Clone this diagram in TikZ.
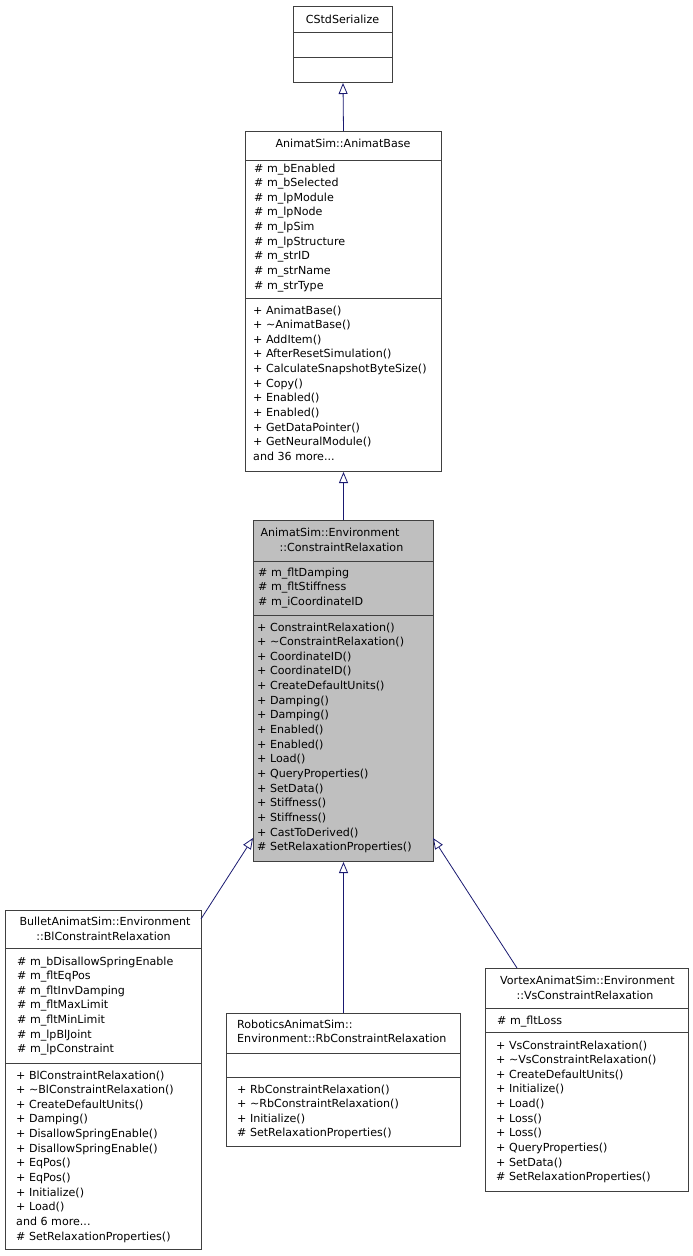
\documentclass[tikz,border=0pt]{standalone}
\usepackage{fontspec}
\setmainfont{DejaVu Sans}
\usetikzlibrary{arrows.meta}
\definecolor{edgecol}{RGB}{25,25,112}
\definecolor{boxline}{RGB}{64,64,64}
\definecolor{crfill}{RGB}{191,191,191}
\newcommand\threedots{...}
\newcommand\mlist[4]{\foreach \t [count=\i] in {#4} {\node[txt] (#1\i) at (#2,{#3+(\i-1)*14.65}) {\t};}}
\begin{document}
\begin{tikzpicture}[x=1pt,y=-1pt,
  umlbox/.style={draw=boxline, line width=1pt, fill=white, inner sep=0pt, anchor=north west},
  txt/.style={anchor=base west, inner sep=0pt, font=\fontsize{11.1}{13}\selectfont},
  ttl/.style={anchor=base, inner sep=0pt, font=\fontsize{11.1}{13}\selectfont},
  divider/.style={draw=boxline, line width=1pt},
  inherit/.style={draw=edgecol, line width=0.8pt, -{Triangle[open, length=11pt, width=9pt, fill=white]}}]
\useasboundingbox (0,0) rectangle (693,1256);

% CStdSerialize
\node[umlbox, minimum width=99pt, minimum height=76pt] (cstd) at (293,6) {};
\draw[divider] (293,32) -- (392,32) (293,57) -- (392,57);
\node[ttl] (cstdT) at (342.5,23) {CStdSerialize};

% AnimatBase
\node[umlbox, minimum width=196pt, minimum height=340pt] (ab) at (245,131) {};
\draw[divider] (245,160) -- (441,160) (245,298) -- (441,298);
\node[ttl] (abT) at (343,147) {AnimatSim::AnimatBase};
\mlist{aba}{254}{172}{\# m\_bEnabled,\# m\_bSelected,\# m\_lpModule,\# m\_lpNode,\# m\_lpSim,\# m\_lpStructure,\# m\_strID,\# m\_strName,\# m\_strType}
\mlist{abm}{253}{314}{+ AnimatBase(),+ \textasciitilde AnimatBase(),+ AddItem(),+ AfterResetSimulation(),+ CalculateSnapshotByteSize(),+ Copy(),+ Enabled(),+ Enabled(),+ GetDataPointer(),+ GetNeuralModule(),and 36 more\threedots}

% ConstraintRelaxation
\node[umlbox, fill=crfill, minimum width=180pt, minimum height=341pt] (cr) at (253,520) {};
\draw[divider] (253,561) -- (433,561) (253,615) -- (433,615);
\node[ttl] (crT1) at (330,536) {AnimatSim::Environment};
\node[ttl] (crT2) at (341.5,551) {::ConstraintRelaxation};
\mlist{cra}{258}{576}{\# m\_fltDamping,\# m\_fltStiffness,\# m\_iCoordinateID}
\mlist{crm}{257}{631}{+ ConstraintRelaxation(),+ \textasciitilde ConstraintRelaxation(),+ CoordinateID(),+ CoordinateID(),+ CreateDefaultUnits(),+ Damping(),+ Damping(),+ Enabled(),+ Enabled(),+ Load(),+ QueryProperties(),+ SetData(),+ Stiffness(),+ Stiffness(),+ CastToDerived(),\# SetRelaxationProperties()}

% BlConstraintRelaxation
\node[umlbox, minimum width=196pt, minimum height=339pt] (bl) at (5,910) {};
\draw[divider] (5,948) -- (201,948) (5,1063) -- (201,1063);
\node[ttl] (blT1) at (105,925) {BulletAnimatSim::Environment};
\node[ttl] (blT2) at (103.5,940) {::BlConstraintRelaxation};
\mlist{bla}{17}{965}{\# m\_bDisallowSpringEnable,\# m\_fltEqPos,\# m\_fltInvDamping,\# m\_fltMaxLimit,\# m\_fltMinLimit,\# m\_lpBlJoint,\# m\_lpConstraint}
\mlist{blm}{16}{1079}{+ BlConstraintRelaxation(),+ \textasciitilde BlConstraintRelaxation(),+ CreateDefaultUnits(),+ Damping(),+ DisallowSpringEnable(),+ DisallowSpringEnable(),+ EqPos(),+ EqPos(),+ Initialize(),+ Load(),and 6 more\threedots,\# SetRelaxationProperties()}

% RbConstraintRelaxation
\node[umlbox, minimum width=234pt, minimum height=133pt] (rb) at (226,1013) {};
\draw[divider] (226,1053) -- (460,1053) (226,1077) -- (460,1077);
\node[txt] (rbT1) at (237,1028) {RoboticsAnimatSim::};
\node[txt] (rbT2) at (237,1042) {Environment::RbConstraintRelaxation};
\mlist{rbm}{237}{1093}{+ RbConstraintRelaxation(),+ \textasciitilde RbConstraintRelaxation(),+ Initialize(),\# SetRelaxationProperties()}

% VsConstraintRelaxation
\node[umlbox, minimum width=203pt, minimum height=223pt] (vs) at (485,968) {};
\draw[divider] (485,1008) -- (688,1008) (485,1032) -- (688,1032);
\node[ttl] (vsT1) at (587.5,984) {VortexAnimatSim::Environment};
\node[ttl] (vsT2) at (585,999) {::VsConstraintRelaxation};
\mlist{vsa}{497}{1024}{\# m\_fltLoss}
\mlist{vsm}{496}{1049}{+ VsConstraintRelaxation(),+ \textasciitilde VsConstraintRelaxation(),+ CreateDefaultUnits(),+ Initialize(),+ Load(),+ Loss(),+ Loss(),+ QueryProperties(),+ SetData(),\# SetRelaxationProperties()}

% connectors
\coordinate (blS) at (201,919);
\coordinate (crBl) at (253,838);
\coordinate (vsS) at (517,968);
\coordinate (crVs) at (433,838);
\draw[inherit] (ab.north) -- (cstd.south);
\draw[inherit] (cr.north) -- (ab.south);
\draw[inherit] (blS) -- (crBl);
\draw[inherit] (rb.north) -- (cr.south);
\draw[inherit] (vsS) -- (crVs);
\end{tikzpicture}
\end{document}
